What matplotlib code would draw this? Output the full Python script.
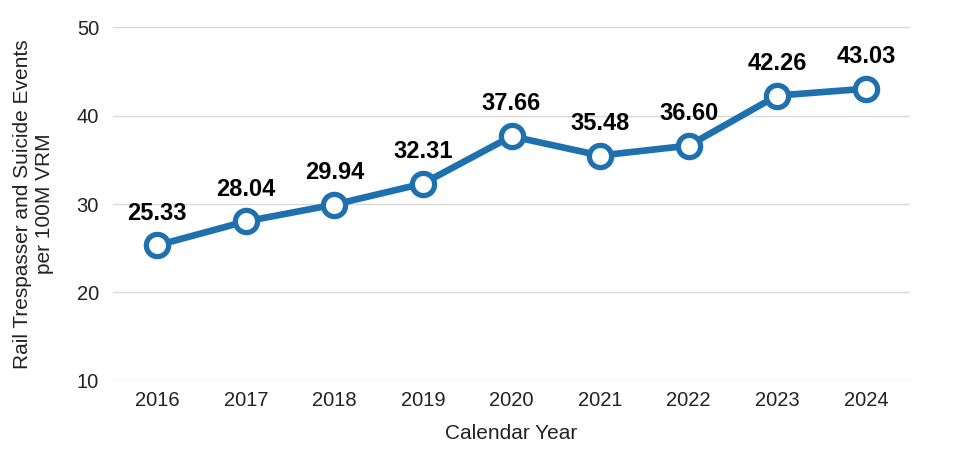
import matplotlib
matplotlib.use("Agg")
import matplotlib.pyplot as plt

years = ["2016", "2017", "2018", "2019", "2020", "2021", "2022", "2023", "2024"]
values = [25.33, 28.04, 29.94, 32.31, 37.66, 35.48, 36.60, 42.26, 43.03]
yticks = [10, 20, 30, 40, 50]

blue = "#1f70ae"
fig = plt.figure(figsize=(9.57, 4.59), dpi=100)
ax = fig.add_axes([0.118, 0.170, 0.833, 0.771])
x = list(range(len(years)))
ax.plot(x, values, color=blue, lw=4.8, marker="o", ms=16, mfc="white",
        mec=blue, mew=3.8, zorder=3, solid_capstyle="round")
for xi, v in zip(x, values):
    ax.annotate(f"{v:.2f}", (xi, v), xytext=(0, 15), textcoords="offset points",
                ha="center", va="bottom", fontsize=17, fontweight="bold",
                family="Liberation Sans", color="black")
ax.set_xlim(-0.5, len(years) - 0.5)
ax.set_ylim(10, 50)
ax.set_yticks(yticks)
ax.set_xticks(x)
ax.set_xticklabels(years)
ax.grid(axis="y", color="#d9d9d9", lw=1)
ax.set_axisbelow(True)
for s in ax.spines.values():
    s.set_visible(False)
ax.tick_params(length=0, labelsize=14.5, colors="#222222")
ax.tick_params(axis="x", pad=7)
ax.tick_params(axis="y", pad=10)
for lab in ax.get_xticklabels() + ax.get_yticklabels():
    lab.set_family("Liberation Sans")
ax.set_xlabel("Calendar Year", fontsize=15, family="Liberation Sans", color="#222222", labelpad=10)
ax.set_ylabel("Rail Trespasser and Suicide Events\nper 100M VRM", fontsize=15,
              family="Liberation Sans", color="#222222", labelpad=16)
fig.savefig("out.png", dpi=100)
